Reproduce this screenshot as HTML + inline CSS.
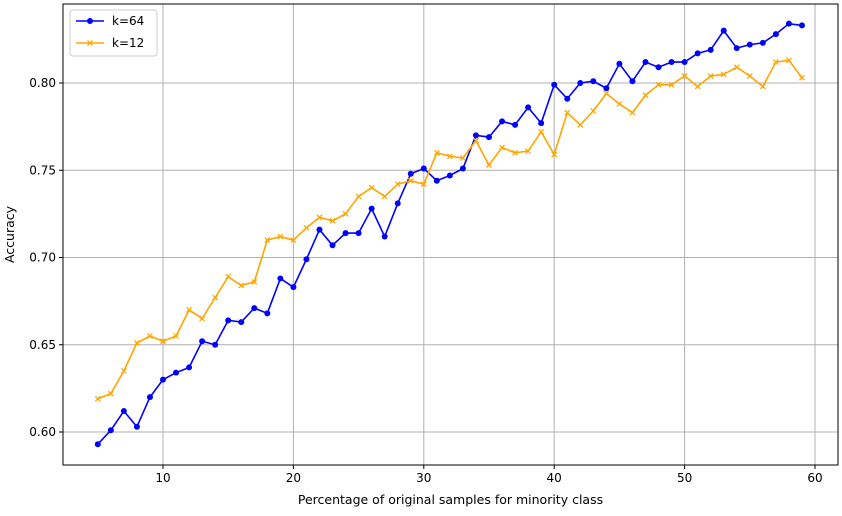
<!DOCTYPE html>
<html><head><meta charset="utf-8"><style>
body{margin:0;background:#fff;font-family:"Liberation Sans","DejaVu Sans",sans-serif;}
svg text{font-family:"DejaVu Sans","Liberation Sans",sans-serif;}
</style></head><body>
<svg id="chart" width="842" height="511" xmlns="http://www.w3.org/2000/svg"></svg>
<script>
const xValues=[];for(let i=5;i<=59;i++)xValues.push(i);
const k64Values=[.593,.601,.612,.603,.620,.630,.634,.637,.652,.650,.664,.663,.671,.668,.688,.683,.699,.716,.707,.714,.714,.728,.712,.731,.748,.751,.744,.747,.751,.770,.769,.778,.776,.786,.777,.799,.791,.800,.801,.797,.811,.801,.812,.809,.812,.812,.817,.819,.830,.820,.822,.823,.828,.834,.833];
const k12Values=[.619,.622,.635,.651,.655,.652,.655,.670,.665,.677,.689,.684,.686,.710,.712,.710,.717,.723,.721,.725,.735,.740,.735,.742,.744,.742,.760,.758,.757,.767,.753,.763,.760,.761,.772,.759,.783,.776,.784,.794,.788,.783,.793,.799,.799,.804,.798,.804,.805,.809,.804,.798,.812,.813,.803];
const xTicks=[10,20,30,40,50,60];
const yTicks=[0.60,0.65,0.70,0.75,0.80];
const L=63,R=838,T=4,B=465;
const X=v=>163+(v-10)*13.04;
const Y=v=>432-(v-0.60)*1745;
const svg=document.getElementById('chart');
const NS='http://www.w3.org/2000/svg';
function mk(tag,attrs,parent){const e=document.createElementNS(NS,tag);for(const k in attrs)e.setAttribute(k,attrs[k]);(parent||svg).appendChild(e);return e;}
xTicks.forEach(t=>{
 const g=mk('line',{x1:X(t),x2:X(t),y1:T,y2:B,stroke:'#b0b0b0','stroke-width':1});
 
 
 mk('line',{x1:X(t),x2:X(t),y1:B,y2:B+4,stroke:'#000'});
 const tx=mk('text',{x:X(t),y:B+17,'font-size':12,'text-anchor':'middle'});tx.textContent=t;
 
 
});
yTicks.forEach(t=>{
 const g=mk('line',{x1:L,x2:R,y1:Y(t),y2:Y(t),stroke:'#b0b0b0','stroke-width':1});
 
 
 mk('line',{x1:L-4,x2:L,y1:Y(t),y2:Y(t),stroke:'#000'});
 const tx=mk('text',{x:L-7,y:Y(t)+4,'font-size':12,'text-anchor':'end'});tx.textContent=t.toFixed(2);
 
 
});
function series(vals,color,name,marker){
 const p=mk('polyline',{points:vals.map((v,i)=>X(xValues[i])+','+Y(v)).join(' '),fill:'none',stroke:color,'stroke-width':1.6});
 
 
 vals.forEach((v,i)=>{
  let m;
  if(marker==='o')m=mk('circle',{cx:X(xValues[i]),cy:Y(v),r:3,fill:color});
  else{const x=X(xValues[i]),y=Y(v);m=mk('path',{d:`M${x-2.5},${y-2.5}L${x+2.5},${y+2.5}M${x-2.5},${y+2.5}L${x+2.5},${y-2.5}`,stroke:color,'stroke-width':1.3});}
  
  
 });
}
series(k64Values,'#0000ff','k64','o');
series(k12Values,'#ffa500','k12','x');
const frame=mk('rect',{x:L,y:T,width:R-L,height:B-T,fill:'none',stroke:'#000','stroke-width':1});


const xl=mk('text',{x:(L+R)/2,y:504,'font-size':12.5,'text-anchor':'middle'});xl.textContent='Percentage of original samples for minority class';


const yl=mk('text',{x:14,y:(T+B)/2,'font-size':12.5,'text-anchor':'middle',transform:`rotate(-90 14 ${(T+B)/2})`});yl.textContent='Accuracy';


const lg=mk('g',{});


mk('rect',{x:70,y:10,width:87,height:46,rx:3,fill:'#fff','fill-opacity':0.8,stroke:'#ccc'},lg);
mk('line',{x1:76,x2:104,y1:21,y2:21,stroke:'#0000ff','stroke-width':1.6},lg);
mk('circle',{cx:90,cy:21,r:3,fill:'#0000ff'},lg);
const t1=mk('text',{x:112,y:25,'font-size':12},lg);t1.textContent='k=64';


mk('line',{x1:76,x2:104,y1:43,y2:43,stroke:'#ffa500','stroke-width':1.6},lg);
mk('path',{d:'M87.5,40.5L92.5,45.5M87.5,45.5L92.5,40.5',stroke:'#ffa500','stroke-width':1.3},lg);
const t2=mk('text',{x:112,y:47,'font-size':12},lg);t2.textContent='k=12';


</script>
</body></html>
